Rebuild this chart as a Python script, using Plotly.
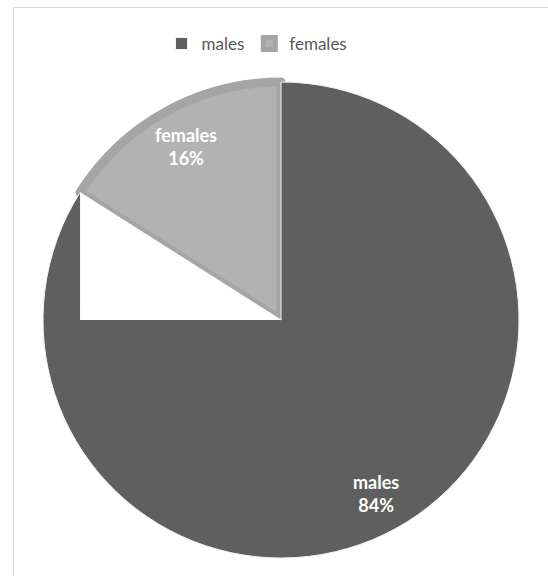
import math
import plotly.graph_objects as go

# Data
labels = ["females", "males"]
values = [16, 84]
fill_colors = ["#b2b2b2", "#5f5f5f"]
border_colors = ["#a5a5a5", "#f2f2f2"]

W, H = 548, 576
cx, cy, R = 281, 320, 238  # pie centre / radius in px

total = sum(values)

fig = go.Figure()
fig.add_trace(go.Pie(
    labels=labels,
    values=values,
    sort=False,
    direction="clockwise",
    rotation=-360 * values[0] / total,
    marker=dict(colors=fill_colors,
                line=dict(color=border_colors, width=[9, 1])),
    textinfo="none",
    domain=dict(x=[(cx - R) / W, (cx + R) / W], y=[1 - (cy + R) / H, 1 - (cy - R) / H]),
    hoverinfo="label+percent",
))

def px(x):
    return x / W
def py(y):
    return 1 - y / H

# data labels placed at each slice's mid-angle (counter-clockwise from 12 o'clock)
annotations = []
start = 0.0
for lab, v in zip(labels, values):
    frac = v / total
    mid = 2 * math.pi * (start + frac / 2)
    start += frac
    rr = 0.83 * R
    lx, ly = cx - rr * math.sin(mid), cy - rr * math.cos(mid)
    annotations.append(dict(
        x=px(lx), y=py(ly), xref="paper", yref="paper", showarrow=False,
        text=f"<b>{lab}<br>{round(frac * 100)}%</b>",
        font=dict(family="Lato, Open Sans, sans-serif", size=18, color="white"),
        align="center", xanchor="center", yanchor="middle",
    ))

# Excel rendering artifact: white wedge below the females slice edge
theta = 2 * math.pi * values[0] / total
ex, ey = cx - R * math.sin(theta), cy - R * math.cos(theta)
tri = f"M {px(ex)} {py(ey)} L {px(ex)} {py(cy)} L {px(cx)} {py(cy)} Z"

fig.update_layout(
    width=W, height=H,
    margin=dict(l=0, r=0, t=0, b=0),
    paper_bgcolor="white",
    plot_bgcolor="white",
    font=dict(family="Lato, Open Sans, sans-serif", color="#595959"),
    showlegend=True,
    legend=dict(orientation="h", x=257 / W, xanchor="center", y=1 - 44 / H, yanchor="middle",
                traceorder="reversed", font=dict(size=17, color="#595959"),
                bgcolor="rgba(0,0,0,0)", itemwidth=30),
    annotations=annotations,
    shapes=[
        dict(type="path", path=tri, xref="paper", yref="paper",
             fillcolor="white", line=dict(width=0), layer="above"),
        dict(type="rect", xref="paper", yref="paper", x0=13.5 / W, x1=1.05,
             y0=-0.05, y1=1 - 7.5 / H, line=dict(color="#d9d9d9", width=1),
             fillcolor="rgba(0,0,0,0)", layer="below"),
    ],
)

fig.write_html("out.html", config={"displayModeBar": False},
               post_script="document.body.style.margin='0';")
